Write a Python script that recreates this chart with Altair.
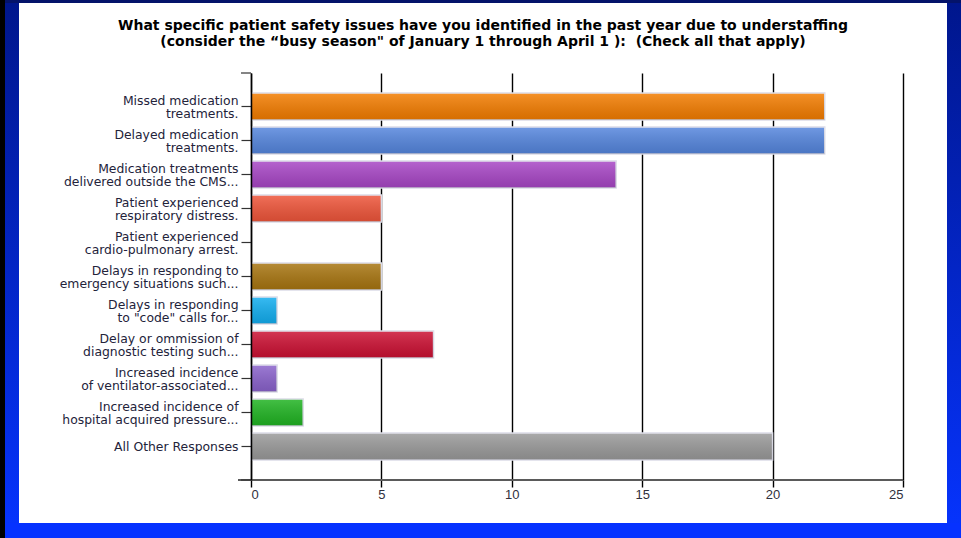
import altair as alt
import pandas as pd

# Survey responses: patient safety issues attributed to understaffing
categories = [
    "Missed medication\ntreatments.",
    "Delayed medication\ntreatments.",
    "Medication treatments\ndelivered outside the CMS...",
    "Patient experienced\nrespiratory distress.",
    "Patient experienced\ncardio-pulmonary arrest.",
    "Delays in responding to\nemergency situations such...",
    "Delays in responding\nto \"code\" calls for...",
    "Delay or ommission of\ndiagnostic testing such...",
    "Increased incidence\nof ventilator-associated...",
    "Increased incidence of\nhospital acquired pressure...",
    "All Other Responses",
]
counts = [22, 22, 14, 5, 0, 5, 1, 7, 1, 2, 20]
bar_colors = [
    "#f47d00", "#5586de", "#a846c6", "#ef553a", "#ffffff", "#a87510",
    "#12aef0", "#cc1033", "#8a62cc", "#20b422", "#9a9a9a",
]
x_ticks = [0, 5, 10, 15, 20, 25]

title_lines = [
    "What specific patient safety issues have you identified in the past year due to understaffing",
    "(consider the \u201cbusy season\" of January 1 through April 1 ):\u00a0 (Check all that apply)",
]

df = pd.DataFrame({"issue": categories, "count": counts})

W, H = 652, 407
PAD_L, PAD_T, PAD_R, PAD_B = 251, 73, 58, 58

one = alt.Data(values=[{}])

y_enc = alt.Y(
    "issue:N",
    sort=categories,
    scale=alt.Scale(domain=categories, paddingInner=0.206, paddingOuter=0.588),
    axis=alt.Axis(
        title=None,
        labelExpr="split(datum.label, '\\n')",
        labelFont="DejaVu Sans",
        labelFontSize=12.4,
        labelColor="#23233a",
        labelLineHeight=13,
        labelPadding=3,
        labelLimit=250,
        # centre two-line labels on their tick
        labelOffset={
            "condition": {"test": "indexof(datum.value, '\\n') >= 0", "value": -5.5},
            "value": 0,
        },
        tickSize=10,
        tickColor="#333333",
        tickWidth=1.2,
        domainColor="#000000",
        domainWidth=1.5,
        zindex=1,
    ),
)
x_enc = alt.X(
    "count:Q",
    scale=alt.Scale(domain=[0, 25], nice=False),
    axis=alt.Axis(
        title=None,
        values=x_ticks,
        grid=True,
        gridColor="#000000",
        gridWidth=1.4,
        gridOpacity=1,
        domain=False,
        ticks=True,
        tickSize=7,
        tickColor="#000000",
        tickWidth=1.4,
        labelFont="Liberation Sans",
        labelFontSize=13,
        labelColor="#30303c",
        labelPadding=1,
    ),
)

visible = "datum.count > 0"

bars = alt.Chart(df).transform_filter(visible).mark_bar(
    stroke="#dcdce8", strokeWidth=1.5
).encode(
    x=x_enc,
    y=y_enc,
    color=alt.Color("issue:N", sort=categories,
                    scale=alt.Scale(domain=categories, range=bar_colors),
                    legend=None),
)

# soft top-to-bottom shading over each bar
shade = alt.Chart(df).transform_filter(visible).mark_bar(
    fill={
        "gradient": "linear", "x1": 0, "y1": 0, "x2": 0, "y2": 1,
        "stops": [
            {"offset": 0, "color": "rgba(255,255,255,0.16)"},
            {"offset": 1, "color": "rgba(0,0,0,0.12)"},
        ],
    },
    strokeWidth=0,
).encode(x="count:Q", y=alt.Y("issue:N", sort=categories))

# x baseline running slightly past the y axis
x_base = alt.Chart(one).mark_rule(color="#5a5a5a", strokeWidth=2).encode(
    x=alt.value(-13), x2=alt.value(W), y=alt.value(H)
)
end_ticks = alt.Chart(alt.Data(values=[{"p": 0}, {"p": H}])).mark_rule(
    color="#333333", strokeWidth=1.2
).encode(x=alt.value(-10), x2=alt.value(0), y=alt.Y("p:Q", scale=None))

# two-line heading above the plot
heading = alt.Chart(alt.Data(values=[
    {"t": title_lines[0], "py": -47},
    {"t": title_lines[1], "py": -31},
])).mark_text(
    font="DejaVu Sans", fontWeight="bold", fontSize=14, color="#000000",
    align="center", baseline="middle",
).encode(
    text="t:N", x=alt.value(232), y=alt.Y("py:Q", scale=None),
)

# slide frame
frame_grad = {
    "gradient": "linear", "x1": 0, "y1": 0, "x2": 0, "y2": 1,
    "stops": [
        {"offset": 0, "color": "#00168c"},
        {"offset": 1, "color": "#0634ff"},
    ],
}
left_band = alt.Chart(one).mark_rect(fill=frame_grad).encode(
    x=alt.value(-PAD_L), x2=alt.value(19 - PAD_L),
    y=alt.value(-PAD_T), y2=alt.value(H + PAD_B),
)
right_band = alt.Chart(one).mark_rect(fill=frame_grad).encode(
    x=alt.value(947 - PAD_L), x2=alt.value(W + PAD_R),
    y=alt.value(-PAD_T), y2=alt.value(H + PAD_B),
)
bottom_band = alt.Chart(one).mark_rect(color="#0632ff").encode(
    x=alt.value(-PAD_L), x2=alt.value(W + PAD_R),
    y=alt.value(523 - PAD_T), y2=alt.value(H + PAD_B),
)
top_band = alt.Chart(one).mark_rect(color="#04136a").encode(
    x=alt.value(-PAD_L), x2=alt.value(W + PAD_R),
    y=alt.value(-PAD_T), y2=alt.value(3 - PAD_T),
)
black_edge = alt.Chart(one).mark_rect(color="#000000").encode(
    x=alt.value(-PAD_L), x2=alt.value(5 - PAD_L),
    y=alt.value(-PAD_T), y2=alt.value(H + PAD_B),
)

chart = alt.layer(
    bars, shade, x_base, end_ticks, heading,
    left_band, right_band, bottom_band, top_band, black_edge,
).properties(
    width=W,
    height=H,
    autosize=alt.AutoSizeParams(type="none"),
    padding={"left": PAD_L, "top": PAD_T, "right": PAD_R, "bottom": PAD_B},
).configure(
    background="#ffffff",
).configure_view(stroke=None)

chart.save("out.html", embed_options={"renderer": "svg", "actions": False})
